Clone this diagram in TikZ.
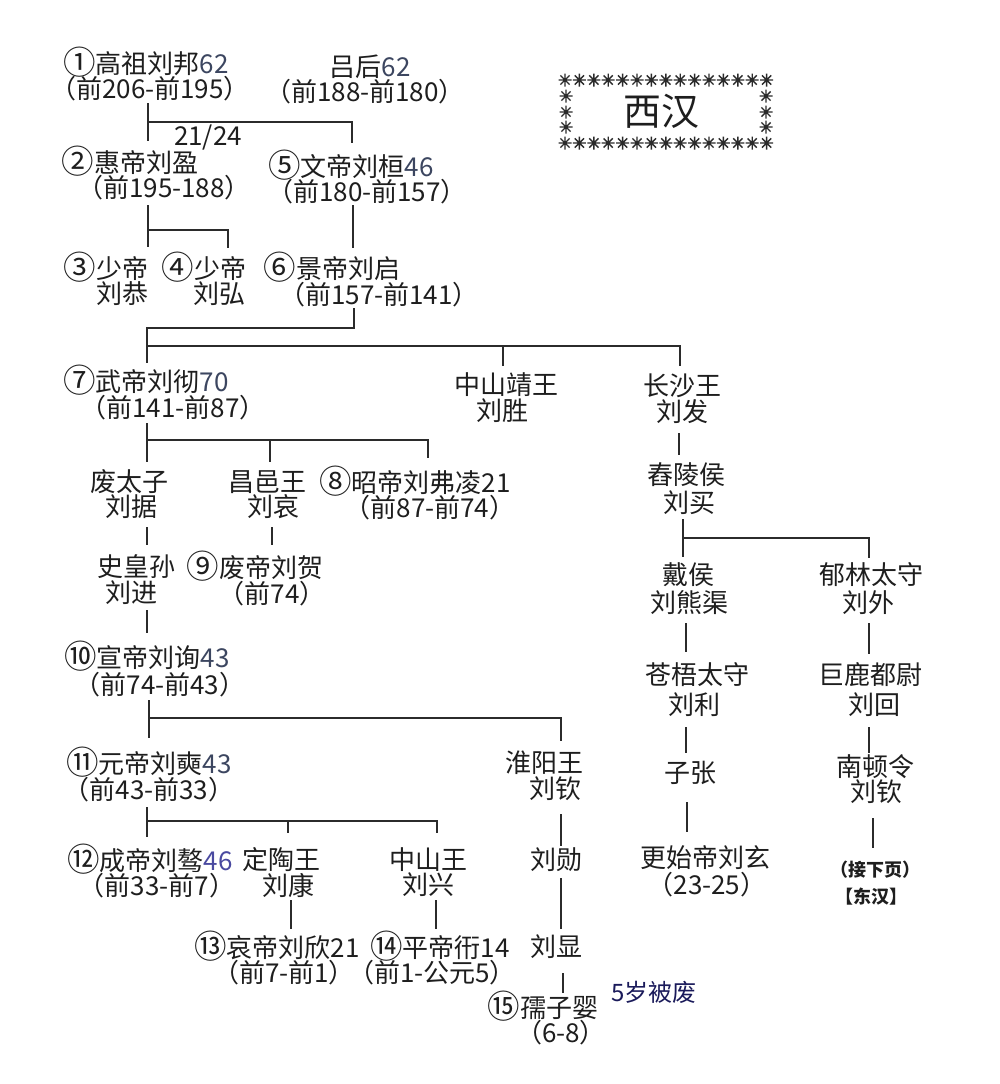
\documentclass[tikz,border=0pt]{standalone}
\usepackage{fontspec}
\usepackage{graphicx}
\setmainfont{Noto Sans CJK SC}
\definecolor{txt}{HTML}{1E1E1E}
\definecolor{lc}{HTML}{2B2B2B}
\definecolor{num}{HTML}{3C4660}
\definecolor{blu}{HTML}{4A4AA0}
\definecolor{navy}{HTML}{1A1A5A}
\newcommand{\cnum}[1]{\raisebox{-0.03em}{\scalebox{1.25}{#1}}}
\tikzset{
  t/.style={font=\fontsize{26}{26}\selectfont, text=txt, inner sep=0pt},
  sm/.style={font=\fontsize{18}{18}\selectfont\bfseries, text=txt, inner sep=0pt},
  ln/.style={draw=lc, line width=1.8pt},
  astk/.pic={\draw[line width=1.4pt, draw=lc] (-6.5,0) -- (6.5,0) (0,-6.5) -- (0,6.5) (-4.6,-4.6) -- (4.6,4.6) (-4.6,4.6) -- (4.6,-4.6);}
}
\begin{document}
\begin{tikzpicture}[x=1pt,y=-1pt]
\useasboundingbox[fill=white] (0,0) rectangle (1000,1084);

% ---- title box ----
\foreach \i in {0,...,14} {
  \pic at ({565+\i*14.4},80) {astk};
  \pic at ({565+\i*14.4},143) {astk};
}
\foreach \yy in {96,112,127} {
  \pic at (566,\yy) {astk};
  \pic at (766,\yy) {astk};
}
\node[font=\fontsize{38}{38}\selectfont, text=txt, inner sep=0pt] (xihan) at (661,111) {西汉};

% ---- nodes ----
\node[t] (gaozu) at (146,62) {\cnum{①}高祖刘邦{\color{num}62}};
\node[t] (gaozu2) at (150,89) {（前206-前195）};
\node[t] (lv) at (370,67) {吕后{\color{num}62}};
\node[t] (lv2) at (365,92) {（前188-前180）};
\node[t] (frac) at (208,138) {21/24};
\node[t] (hui) at (130,161) {\cnum{②}惠帝刘盈};
\node[t] (hui2) at (164,188) {（前195-188）};
\node[t] (wen) at (351,165) {\cnum{⑤}文帝刘桓{\color{num}46}};
\node[t] (wen2) at (367,192) {（前180-前157）};
\node[t] (shao1) at (106,267) {\cnum{③}少帝};
\node[t] (shao1b) at (122,294) {刘恭};
\node[t] (shao2) at (204,267) {\cnum{④}少帝};
\node[t] (shao2b) at (219,294) {刘弘};
\node[t] (jing) at (332,267) {\cnum{⑥}景帝刘启};
\node[t] (jing2) at (379,295) {（前157-前141）};
\node[t] (wu) at (146,380) {\cnum{⑦}武帝刘彻{\color{num}70}};
\node[t] (wu2) at (173,408) {（前141-前87）};
\node[t] (zsj) at (506,385) {中山靖王};
\node[t] (zsj2) at (502,411) {刘胜};
\node[t] (cs) at (682,386) {长沙王};
\node[t] (cs2) at (682,412) {刘发};
\node[t] (ftz) at (129,482) {废太子};
\node[t] (ftz2) at (131,507) {刘据};
\node[t] (cy) at (267,482) {昌邑王};
\node[t] (cy2) at (273,507) {刘哀};
\node[t] (zhao) at (415,481) {\cnum{⑧}昭帝刘弗凌21};
\node[t] (zhao2) at (430,508) {（前87-前74）};
\node[t] (shs) at (136,567) {史皇孙};
\node[t] (shs2) at (131,593) {刘进};
\node[t] (fei) at (255,566) {\cnum{⑨}废帝刘贺};
\node[t] (fei2) at (272,594) {（前74）};
\node[t] (xuan) at (147,656) {\cnum{⑩}宣帝刘询{\color{num}43}};
\node[t] (xuan2) at (160,685) {（前74-前43）};
\node[t] (yuan) at (149,762) {\cnum{⑪}元帝刘奭{\color{num}43}};
\node[t] (yuan2) at (149,790) {（前43-前33）};
\node[t] (hy) at (544,763) {淮阳王};
\node[t] (hy2) at (555,789) {刘钦};
\node[t] (cheng) at (150,859) {\cnum{⑫}成帝刘骜{\color{blu}46}};
\node[t] (cheng2) at (157,886) {（前33-前7）};
\node[t] (dt) at (281,860) {定陶王};
\node[t] (dt2) at (288,885) {刘康};
\node[t] (zs) at (428,860) {中山王};
\node[t] (zs2) at (428,885) {刘兴};
\node[t] (lxun) at (556,860) {刘勋};
\node[t] (ai) at (277,946) {\cnum{⑬}哀帝刘欣21};
\node[t] (ai2) at (284,973) {（前7-前1）};
\node[t] (ping) at (440,946) {\cnum{⑭}平帝衎14};
\node[t] (ping2) at (432,973) {（前1-公元5）};
\node[t] (lxian) at (556,947) {刘显};
\node[t] (ruzi) at (543,1006) {\cnum{⑮}孺子婴};
\node[t] (ruzi2) at (561,1033) {（6-8）};
\node[t, font=\fontsize{24}{24}\selectfont, text=navy] (note) at (654,992) {5岁被废};
\node[t] (cl) at (686,475) {舂陵侯};
\node[t] (cl2) at (689,503) {刘买};
\node[t] (dai) at (688,575) {戴侯};
\node[t] (dai2) at (689,603) {刘熊渠};
\node[t] (yl) at (871,575) {郁林太守};
\node[t] (yl2) at (868,603) {刘外};
\node[t] (cw) at (697,675) {苍梧太守};
\node[t] (cw2) at (694,705) {刘利};
\node[t] (jl) at (870,675) {巨鹿都尉};
\node[t] (jl2) at (874,705) {刘回};
\node[t] (zz) at (690,773) {子张};
\node[t] (nd) at (875,767) {南顿令};
\node[t] (nd2) at (876,792) {刘钦};
\node[t] (gs) at (705,858) {更始帝刘玄};
\node[t] (gs2) at (707,885) {（23-25）};
\node[sm] (jx) at (875,870) {（接下页）};
\node[sm] (dh) at (871,897) {【东汉】};

% ---- connector points ----
\coordinate (gaozu-b) at (148,103);
\coordinate (gaozu-j) at (148,122);
\coordinate (hui-t) at (148,141);
\coordinate (wen-t) at (352,143);
\coordinate (hui-b) at (148,205);
\coordinate (hui-j) at (148,230);
\coordinate (shao1-t) at (148,247);
\coordinate (shao2-t) at (228,248);
\coordinate (wen-b) at (353,205);
\coordinate (jing-t) at (353,248);
\coordinate (jing-b) at (354,308);
\coordinate (jing-j) at (354,328);
\coordinate (wu-t) at (147,363);
\coordinate (wu-j0) at (147,346);
\coordinate (zsj-t) at (503,366);
\coordinate (cs-t) at (680,366);
\coordinate (wu-b) at (147,423);
\coordinate (wu-j) at (147,440);
\coordinate (ftz-t) at (147,462);
\coordinate (cy-t) at (270,462);
\coordinate (zhao-t) at (428,458);
\coordinate (ftz-b) at (147,527);
\coordinate (shs-t) at (147,545);
\coordinate (cy-b) at (272,527);
\coordinate (fei-t) at (272,545);
\coordinate (shs-b) at (147,610);
\coordinate (xuan-t) at (147,633);
\coordinate (xuan-b) at (149,700);
\coordinate (xuan-j) at (149,718);
\coordinate (yuan-t) at (149,738);
\coordinate (hy-t) at (561,741);
\coordinate (yuan-b) at (147,807);
\coordinate (yuan-j) at (147,821);
\coordinate (cheng-t) at (147,837);
\coordinate (dt-t) at (288,833);
\coordinate (zs-t) at (437,833);
\coordinate (hy-b) at (561,814);
\coordinate (lxun-t) at (561,846);
\coordinate (dt-b) at (291,900);
\coordinate (ai-t) at (291,929);
\coordinate (zs-b) at (436,900);
\coordinate (ping-t) at (436,929);
\coordinate (lxun-b) at (561,878);
\coordinate (lxian-t) at (561,929);
\coordinate (lxian-b) at (563,973);
\coordinate (ruzi-t) at (563,993);
\coordinate (cs-b) at (679,433);
\coordinate (cl-t) at (679,455);
\coordinate (cl-b) at (683,519);
\coordinate (cl-j) at (683,538);
\coordinate (dai-t) at (683,557);
\coordinate (yl-t) at (869,558);
\coordinate (dai-b) at (686,623);
\coordinate (cw-t) at (686,652);
\coordinate (yl-b) at (869,623);
\coordinate (jl-t) at (869,654);
\coordinate (cw-b) at (686,727);
\coordinate (zz-t) at (686,753);
\coordinate (jl-b) at (869,727);
\coordinate (nd-t) at (869,753);
\coordinate (zz-b) at (687,802);
\coordinate (gs-t) at (687,832);
\coordinate (nd-b) at (873,818);
\coordinate (jx-t) at (873,848);

% ---- connectors ----
\draw[ln] (gaozu-b) -- (hui-t);
\draw[ln] (gaozu-j) -| (wen-t);
\draw[ln] (hui-b) -- (shao1-t);
\draw[ln] (hui-j) -| (shao2-t);
\draw[ln] (wen-b) -- (jing-t);
\draw[ln] (jing-b) -- (jing-j) -| (wu-t);
\draw[ln] (wu-j0) -| (cs-t);
\draw[ln] (zsj-t |- wu-j0) -- (zsj-t);
\draw[ln] (wu-b) -- (ftz-t);
\draw[ln] (wu-j) -| (zhao-t);
\draw[ln] (cy-t |- wu-j) -- (cy-t);
\draw[ln] (ftz-b) -- (shs-t);
\draw[ln] (cy-b) -- (fei-t);
\draw[ln] (shs-b) -- (xuan-t);
\draw[ln] (xuan-b) -- (yuan-t);
\draw[ln] (xuan-j) -| (hy-t);
\draw[ln] (yuan-b) -- (cheng-t);
\draw[ln] (yuan-j) -| (zs-t);
\draw[ln] (dt-t |- yuan-j) -- (dt-t);
\draw[ln] (hy-b) -- (lxun-t);
\draw[ln] (dt-b) -- (ai-t);
\draw[ln] (zs-b) -- (ping-t);
\draw[ln] (lxun-b) -- (lxian-t);
\draw[ln] (lxian-b) -- (ruzi-t);
\draw[ln] (cs-b) -- (cl-t);
\draw[ln] (cl-b) -- (dai-t);
\draw[ln] (cl-j) -| (yl-t);
\draw[ln] (dai-b) -- (cw-t);
\draw[ln] (yl-b) -- (jl-t);
\draw[ln] (cw-b) -- (zz-t);
\draw[ln] (jl-b) -- (nd-t);
\draw[ln] (zz-b) -- (gs-t);
\draw[ln] (nd-b) -- (jx-t);
\end{tikzpicture}
\end{document}
